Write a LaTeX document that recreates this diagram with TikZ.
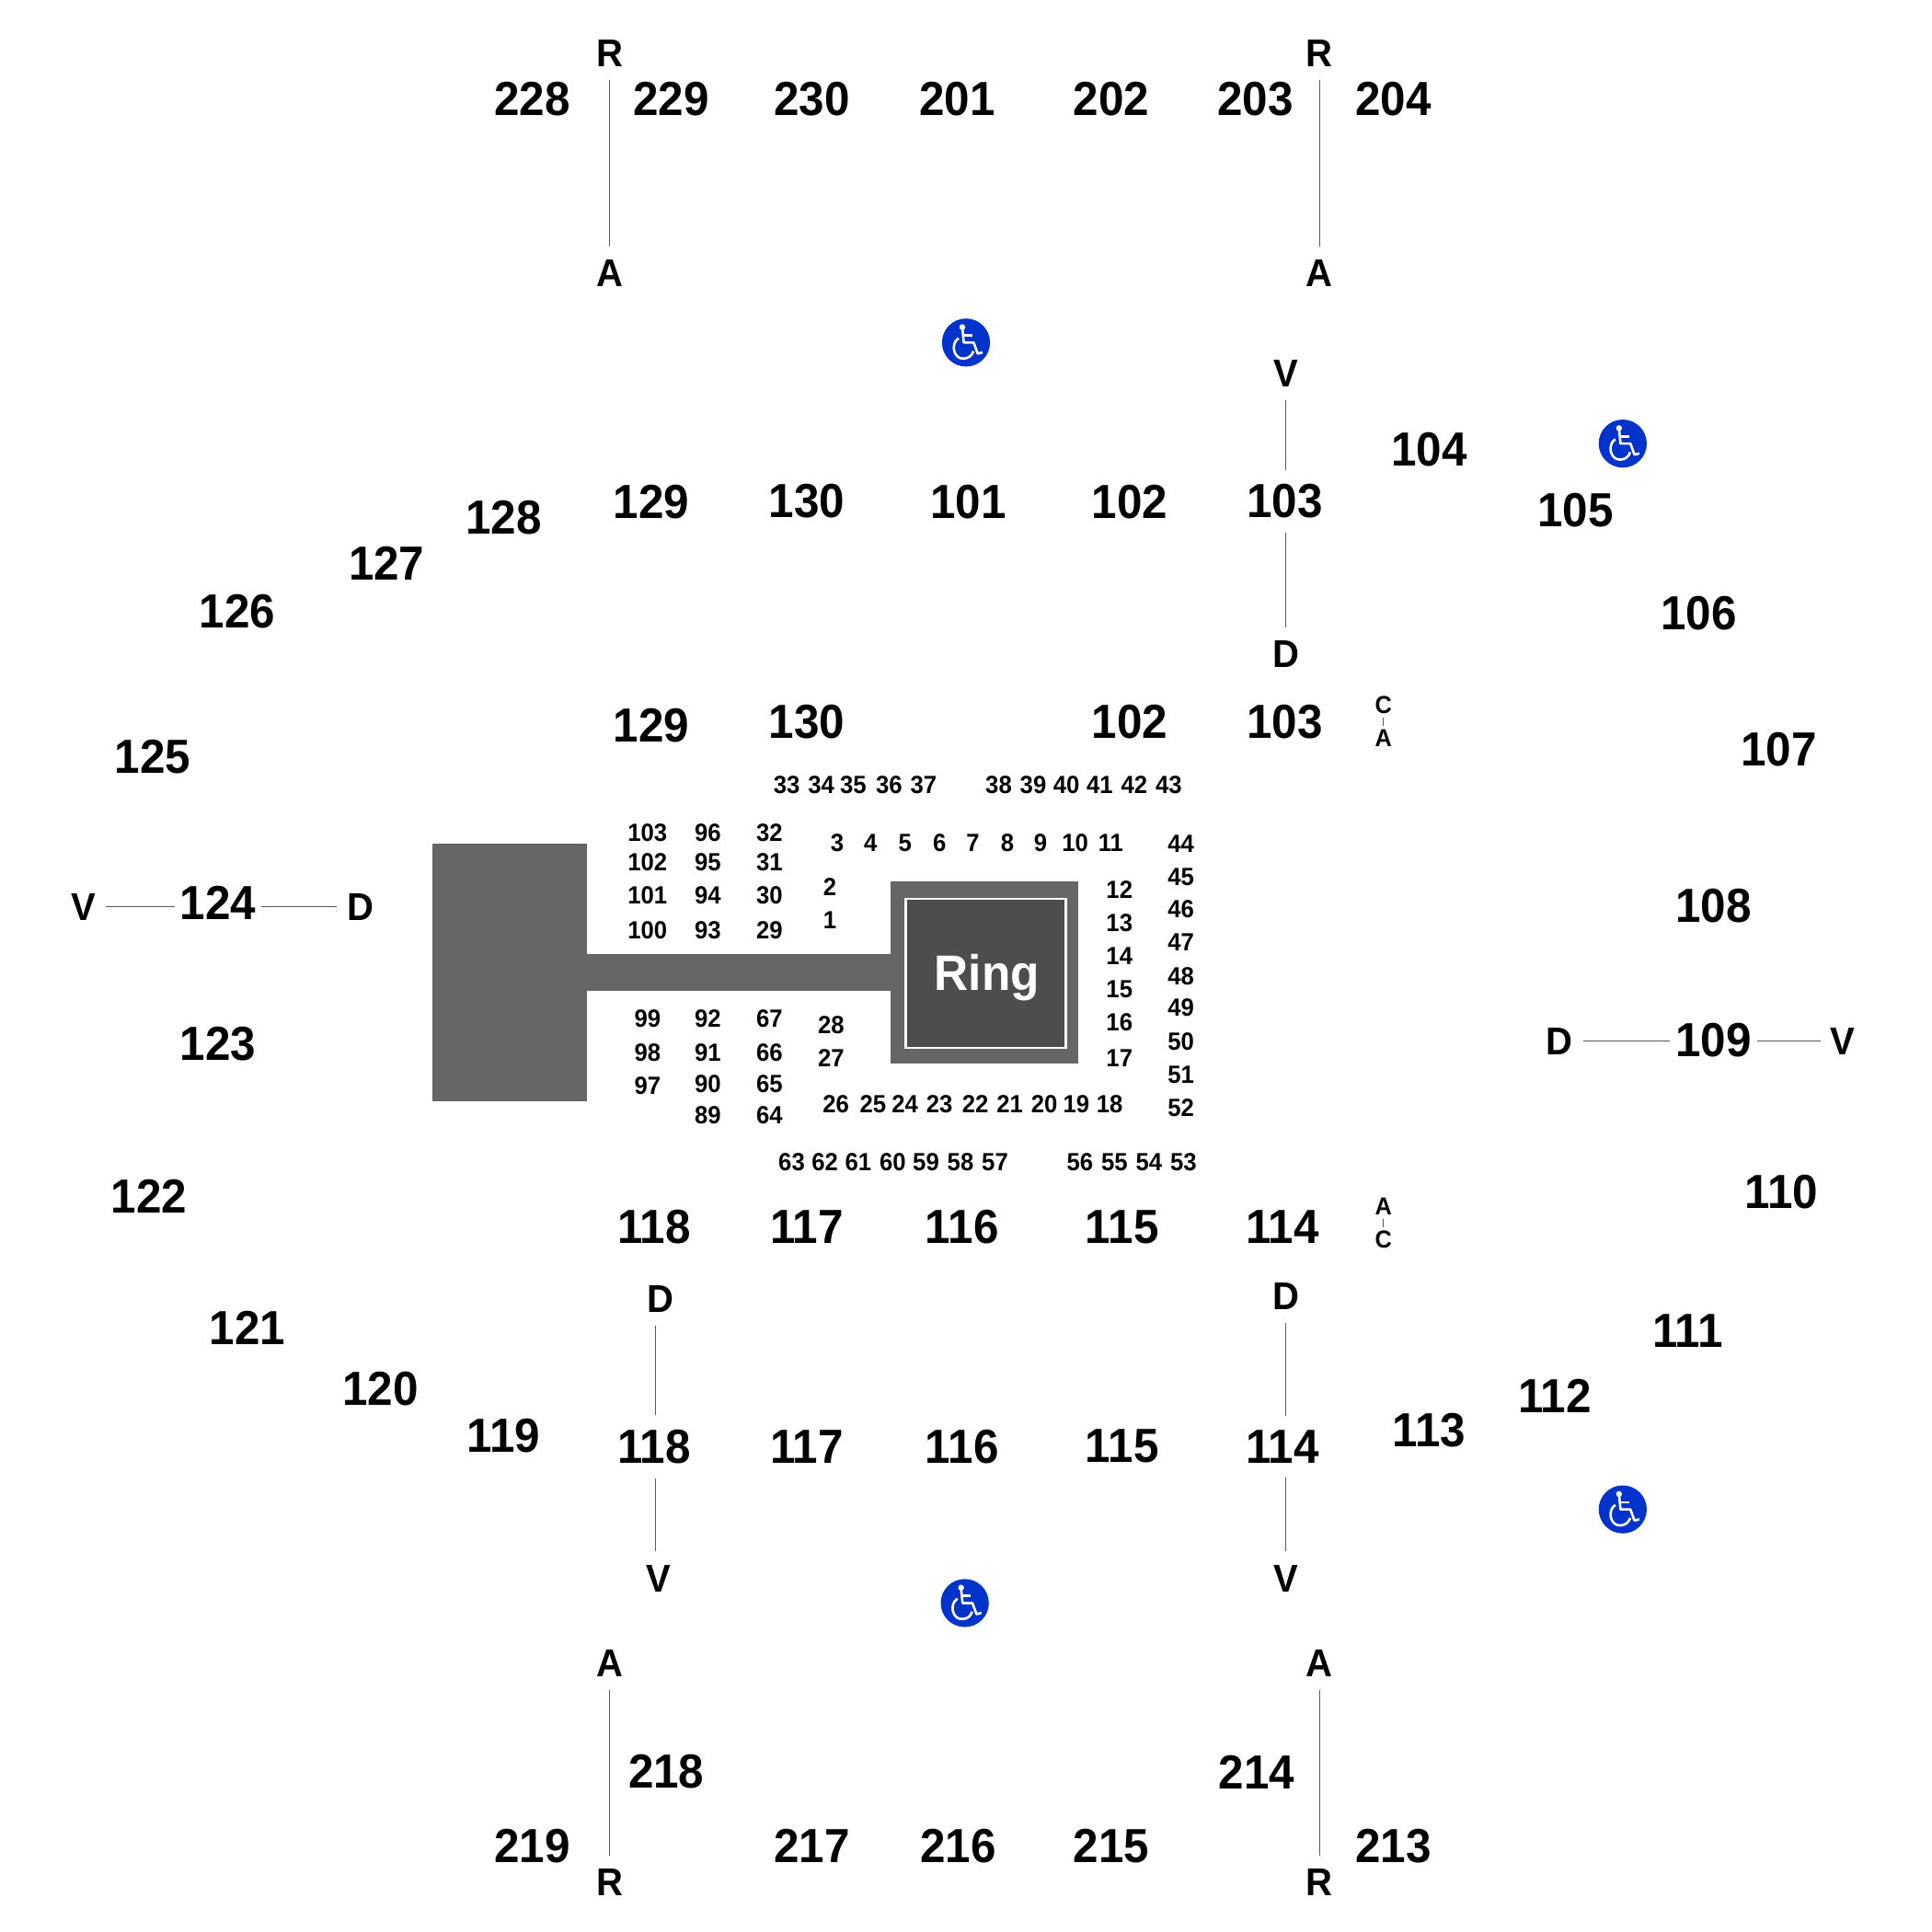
\documentclass[tikz,border=0pt]{standalone}
\usepackage{fontspec}
\setmainfont[FakeStretch=0.95]{Liberation Sans}
\usetikzlibrary{positioning}
\definecolor{stagegray}{HTML}{666666}
\definecolor{ringgray}{HTML}{4D4D4D}
\definecolor{accessblue}{HTML}{0033CC}

\begin{document}
\begin{tikzpicture}[x=0.0133929cm, y=-0.0133929cm,
  sec/.style={font=\fontsize{14.8}{14.8}\selectfont\bfseries, inner xsep=1.5pt, inner ysep=4.3pt, xshift=0.3pt},
  ltr/.style={font=\fontsize{12}{12}\selectfont\bfseries, inner xsep=3pt, inner ysep=4pt, xshift=0.3pt},
  seat/.style={font=\fontsize{7.7}{7.7}\selectfont\bfseries, inner sep=0pt, xshift=0.2pt},
  tiny ltr/.style={font=\fontsize{7.6}{7.6}\selectfont\bfseries, inner xsep=0pt, inner ysep=1pt, xshift=0.3pt},
  lnk/.style={draw=black!65, line width=0.3pt},
  access/.pic={
    \fill[accessblue] (0,0) circle (19.5);
    \fill[white] (-3,-12.5) circle (2.4);
    \draw[white, line width=0.75pt, line join=round] (-3,-12) -- (-1.8,0) -- (6.2,0) -- (9.5,9) -- (13.5,8);
    \draw[white, line width=0.75pt] (-2.4,-5.8) -- (5,-5.8);
    \draw[white, line width=0.75pt] (-6,-3.6) .. controls (-13,1) and (-10,13.5) .. (-2,13)
      .. controls (2,13) and (5,10.5) .. (6,7);
  }]
  \useasboundingbox (0,0) rectangle (1568,1568);

  \fill[stagegray] (351,685) rectangle (476,894);
  \fill[stagegray] (476,774) rectangle (723,804);
  \fill[stagegray] (723,715) rectangle (875,863);
  \node[draw=white, line width=0.7pt, fill=ringgray, minimum width=130*0.0133929cm, minimum height=121*0.0133929cm,
    inner sep=0pt] (ring) at (800,790) {};
  \node[text=white, inner sep=0pt, anchor=base, font=\fontsize{15.4}{15.4}\selectfont\bfseries] (ringname) at (801,804) {Ring};

  \foreach \t/\px in {228/431,229/544,230/658,201/776,202/901,203/1018,204/1130}
    \node[sec] (t\t) at (\px,80) {\t};
  \foreach \t/\px in {219/431,217/658,216/777,215/901,213/1130}
    \node[sec] (b\t) at (\px,1498) {\t};
  \foreach \t/\px in {218/540,214/1019}
    \node[sec] (b\t) at (\px,1438) {\t};
  \foreach \t/\px in {129/528,130/654,101/785,102/916,103/1042}
    \node[sec] (u\t) at (\px,407) {\t};
  \foreach \t/\px/\py in {129/528/589,130/654/586,102/916/586,103/1042/586}
    \node[sec] (m\t) at (\px,\py) {\t};
  \foreach \t/\px in {118/530,117/654,116/780,115/910,114/1040} {
    \node[sec] (m\t) at (\px,996) {\t};
    \node[sec] (l\t) at (\px,1174) {\t};
  }
  \foreach \t/\px/\py in {104/1159/365,105/1278/414,106/1378/498,107/1443/608,108/1390/735,
      109/1390/844,110/1445/967,111/1369/1080,112/1261/1133,113/1159/1161,
      128/408/420,127/313/457,126/192/496,125/123/614,124/176/733,123/176/847,
      122/120/971,121/200/1078,120/308/1127,119/408/1165}
    \node[sec] (o\t) at (\px,\py) {\t};

  \node[ltr] (r1) at (494,43) {R};
  \node[ltr] (a1) at (494,222) {A};
  \node[ltr] (r2) at (1070,43) {R};
  \node[ltr] (a2) at (1070,222) {A};
  \node[ltr] (v3) at (1043,303) {V};
  \node[ltr] (d3) at (1043,531) {D};
  \node[ltr] (v4) at (67,736) {V};
  \node[ltr] (d4) at (292,736) {D};
  \node[ltr] (d5) at (1265,845) {D};
  \node[ltr] (v5) at (1495,845) {V};
  \node[ltr] (d6) at (535,1054) {D};
  \node[ltr] (v6) at (534,1281) {V};
  \node[ltr] (d7) at (1043,1052) {D};
  \node[ltr] (v7) at (1043,1281) {V};
  \node[ltr] (a8) at (494,1350) {A};
  \node[ltr] (r8) at (494,1528) {R};
  \node[ltr] (a9) at (1070,1350) {A};
  \node[ltr] (r9) at (1070,1528) {R};
  \node[tiny ltr] (c10) at (1122,572) {C};
  \node[tiny ltr] (a10) at (1122,599) {A};
  \node[tiny ltr] (a11) at (1122,979) {A};
  \node[tiny ltr] (c11) at (1122,1006) {C};

  \coordinate (d6s) at ([xshift=-1.4pt]d6.south);
  \coordinate (v6n) at ([xshift=-1pt]v6.north);

  \draw[lnk] (r1) -- (a1);
  \draw[lnk] (r2) -- (a2);
  \draw[lnk] (v3) -- (v3 |- u103.north);
  \draw[lnk] (d3) -- (d3 |- u103.south);
  \draw[lnk] (v4) -- (v4 -| o124.west);
  \draw[lnk] (d4) -- (d4 -| o124.east);
  \draw[lnk] (d5) -- (d5 -| o109.west);
  \draw[lnk] (v5) -- (v5 -| o109.east);
  \draw[lnk] (d6s) -- (d6s |- l118.north);
  \draw[lnk] (v6n) -- (v6n |- l118.south);
  \draw[lnk] (d7) -- (d7 |- l114.north);
  \draw[lnk] (v7) -- (v7 |- l114.south);
  \draw[lnk] (a8) -- (r8);
  \draw[lnk] (a9) -- (r9);
  \draw[lnk] (c10) -- (a10);
  \draw[lnk] (a11) -- (c11);

  \foreach \t/\px in {33/638,34/666,35/692,36/721,37/749,38/810,39/838,40/865,41/892,42/920,43/948}
    \node[seat] (s\t) at (\px,637) {\t};
  \foreach \t/\px in {3/679,4/706,5/734,6/762,7/789,8/817,9/844,10/872,11/901}
    \node[seat] (s\t) at (\px,684) {\t};
  \foreach \t/\px in {26/678,25/708,24/734,23/762,22/791,21/819,20/847,19/873,18/900}
    \node[seat] (s\t) at (\px,896) {\t};
  \foreach \t/\px in {63/642,62/669,61/696,60/724,59/751,58/779,57/807,56/876,55/904,54/932,53/960}
    \node[seat] (s\t) at (\px,943) {\t};
  \foreach \t/\py in {103/676,102/700,101/727,100/755,99/827,98/854,97/881}
    \node[seat] (s\t) at (525,\py) {\t};
  \foreach \t/\py in {96/676,95/700,94/727,93/755,92/827,91/854,90/880,89/905}
    \node[seat] (s\t) at (574,\py) {\t};
  \foreach \t/\py in {32/676,31/700,30/727,29/755,67/827,66/854,65/880,64/905}
    \node[seat] (s\t) at (624,\py) {\t};
  \foreach \t/\py in {2/720,1/747}
    \node[seat] (s\t) at (673,\py) {\t};
  \foreach \t/\py in {28/832,27/859}
    \node[seat] (s\t) at (674,\py) {\t};
  \foreach \t/\py in {12/722,13/749,14/776,15/803,16/830,17/859}
    \node[seat] (s\t) at (908,\py) {\t};
  \foreach \t/\py in {44/685,45/712,46/738,47/765,48/792,49/818,50/845,51/872,52/899}
    \node[seat] (s\t) at (958,\py) {\t};

  \pic at (784,278) {access};
  \pic at (1317,360) {access};
  \pic at (1317,1225) {access};
  \pic at (783,1301) {access};
\end{tikzpicture}
\end{document}
